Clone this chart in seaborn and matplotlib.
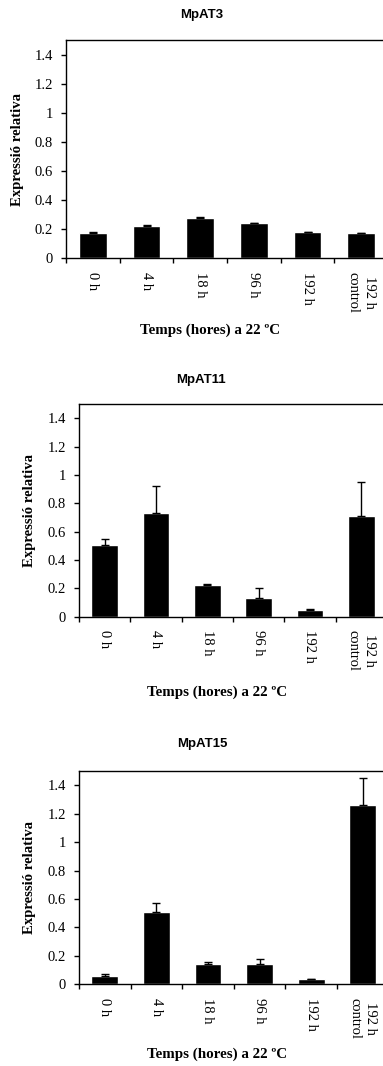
import matplotlib
matplotlib.use("Agg")
import matplotlib.pyplot as plt
import matplotlib.ticker as mticker
import seaborn as sns
import pandas as pd

categories = ["0 h", "4 h", "18 h", "96 h", "192 h", "192 h\ncontrol"]
titles = ["MpAT3", "MpAT11", "MpAT15"]
mpat3_values = [0.172, 0.224, 0.276, 0.241, 0.179, 0.171]
mpat3_errors = [0.006, 0.006, 0.009, 0.003, 0.003, 0.002]
mpat11_values = [0.509, 0.733, 0.222, 0.134, 0.045, 0.714]
mpat11_errors = [0.038, 0.193, 0.009, 0.071, 0.009, 0.234]
mpat15_values = [0.061, 0.506, 0.140, 0.140, 0.035, 1.259]
mpat15_errors = [0.009, 0.063, 0.019, 0.038, 0.000, 0.195]
y_ticks = [0, 0.2, 0.4, 0.6, 0.8, 1.0, 1.2, 1.4]
ylabel_text = "Expressió relativa"
xlabel_text = "Temps (hores) a 22 ºC"

sns.set_theme(style="white")
plt.rcParams["font.family"] = ["Liberation Serif", "DejaVu Serif"]
for key in ["text.color", "axes.labelcolor", "xtick.color", "ytick.color",
            "axes.edgecolor"]:
    plt.rcParams[key] = "black"

W, H = 383, 1066
fig = plt.figure(figsize=(W / 100, H / 100), dpi=100)

layout = [
    dict(l=66, r=388, t=40, b=258.3, tx=202, ty=15, ylx=18, xlx=210, xly=330),
    dict(l=79, r=387, t=404.3, b=616.7, tx=201, ty=380, ylx=30, xlx=217.5, xly=692),
    dict(l=79, r=388.6, t=771, b=984.3, tx=202, ty=744, ylx=30, xlx=217.5, xly=1054),
]
datasets = [(mpat3_values, mpat3_errors), (mpat11_values, mpat11_errors),
            (mpat15_values, mpat15_errors)]

for title, (vals, errs), L in zip(titles, datasets, layout):
    ax = fig.add_axes([L["l"] / W, 1 - L["b"] / H, (L["r"] - L["l"]) / W,
                       (L["b"] - L["t"]) / H])
    df = pd.DataFrame({"cat": categories, "val": vals})
    sns.barplot(data=df, x="cat", y="val", order=categories, color="black",
                saturation=1, width=0.52, errorbar=None, ax=ax, zorder=2)
    ax.errorbar(range(len(categories)), vals, yerr=[[0] * len(errs), errs],
                fmt="none", ecolor="black", elinewidth=1.0, capsize=3.0,
                capthick=1.0, zorder=3)
    ax.set_xlim(-0.5, 5.5)
    ax.set_ylim(0, 1.5)
    ax.set_yticks(y_ticks)
    ax.yaxis.set_major_formatter(mticker.FuncFormatter(lambda v, p: f"{v:g}"))
    ax.set_xticks([i - 0.5 for i in range(len(categories))])
    ax.set_xticklabels([])
    ax.set_xticks(range(len(categories)), minor=True)
    ax.set_xticklabels(categories, minor=True, rotation=270, ha="center",
                       va="top", fontsize=10.5, linespacing=1.3)
    ax.tick_params(axis="x", which="major", direction="out", length=3.6,
                   width=1, color="black", bottom=True)
    ax.tick_params(axis="x", which="minor", length=0, pad=9.6, bottom=True)
    ax.tick_params(axis="y", direction="out", length=3.6, width=1,
                   color="black", left=True, pad=5.8, labelsize=10.5)
    for side in ["left", "bottom", "top", "right"]:
        ax.spines[side].set_color("black")
        ax.spines[side].set_linewidth(1.0)
    ax.set_xlabel(xlabel_text, fontsize=10.8, fontweight="bold")
    ax.set_ylabel(ylabel_text, fontsize=10.6, fontweight="bold")
    w = L["r"] - L["l"]
    h = L["b"] - L["t"]
    ax.yaxis.set_label_coords((L["ylx"] - L["l"]) / w, 0.5)
    ax.xaxis.set_label_coords((L["xlx"] - L["l"]) / w, (L["b"] - L["xly"]) / h)
    ax.xaxis.label.set_va("center")
    ax.yaxis.label.set_va("center")
    fig.text(L["tx"] / W, 1 - L["ty"] / H, title, ha="center", va="center",
             fontsize=9.5, fontweight="bold", color="black",
             family=["Liberation Sans", "DejaVu Sans"])

fig.savefig("out.png", dpi=100)
